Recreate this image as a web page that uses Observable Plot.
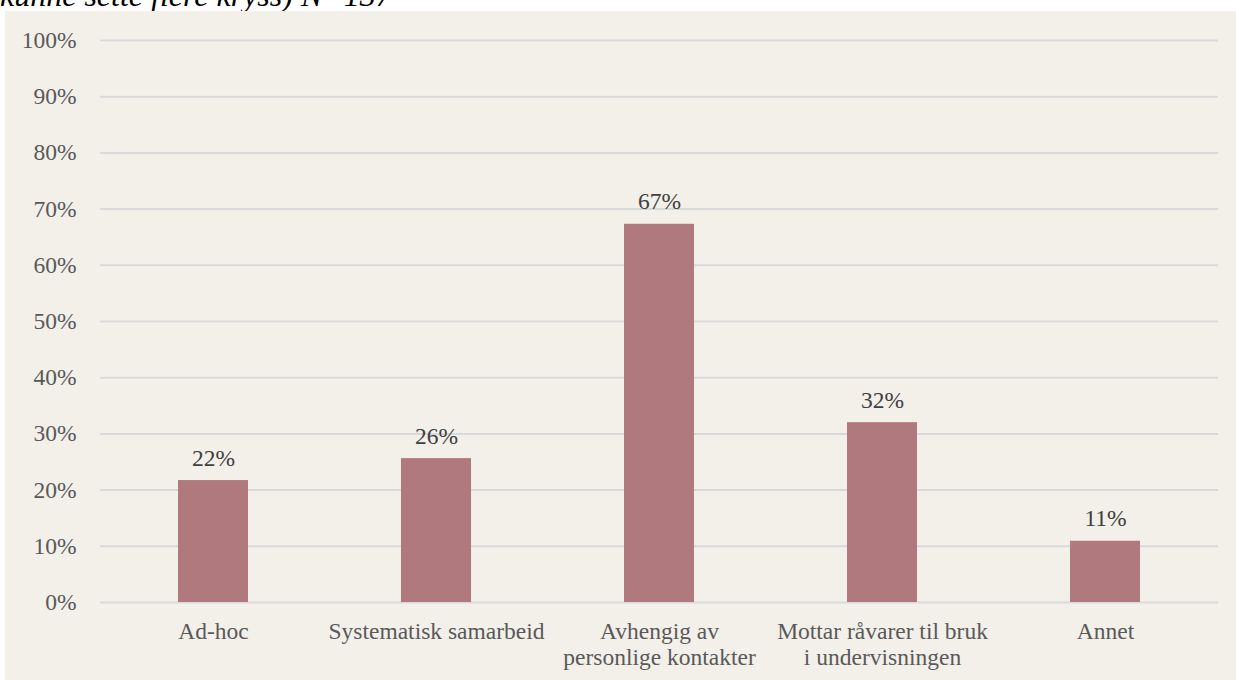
<!DOCTYPE html>
<html>
<head>
<meta charset="utf-8">
<script src="https://cdn.jsdelivr.net/npm/d3@7"></script>
<script src="https://cdn.jsdelivr.net/npm/@observablehq/plot@0.6"></script>
<style>
  html, body { margin: 0; padding: 0; background: #ffffff; width: 1236px; height: 680px; overflow: hidden; }
  #title { position: absolute; left: 0; top: -21px; font-family: 'Liberation Serif', serif; font-style: italic; font-size: 32px; line-height: 1; color: #000; white-space: nowrap; }
  #panel { position: absolute; left: 5px; top: 11px; width: 1231px; height: 669px; background: #f3f0ea; }
</style>
</head>
<body>
<div id="title">kunne sette flere kryss) N=137</div>
<div id="panel"></div>
<script>
const categories = ["Ad-hoc", "Systematisk samarbeid", "Avhengig av personlige kontakter", "Mottar råvarer til bruk i undervisningen", "Annet"];
const tickLabels = ["Ad-hoc", "Systematisk samarbeid", "Avhengig av\npersonlige kontakter", "Mottar råvarer til bruk\ni undervisningen", "Annet"];
const values = [0.217, 0.256, 0.673, 0.320, 0.109];
const valueLabels = ["22%", "26%", "67%", "32%", "11%"];
const yTicks = [0, 0.1, 0.2, 0.3, 0.4, 0.5, 0.6, 0.7, 0.8, 0.9, 1.0];

const data = categories.map((c, i) => ({category: c, value: values[i], label: valueLabels[i]}));
const tickMap = new Map(categories.map((c, i) => [c, tickLabels[i]]));

const chart = Plot.plot({
  width: 1231,
  height: 669,
  marginTop: 29,
  marginBottom: 78,
  marginLeft: 95,
  marginRight: 18,
  style: {background: "transparent", fontFamily: "'Liberation Serif', serif", fontSize: "23.5px"},
  x: {domain: categories, paddingInner: 0.687, paddingOuter: 0.3435, label: null},
  y: {domain: [0, 1], label: null},
  marks: [
    Plot.ruleY(yTicks, {stroke: "#d9d9d9", strokeWidth: 2}),
    Plot.barY(data, {x: "category", y: "value", fill: "#b0797d"}),
    Plot.text(data, {x: "category", y: "value", text: "label", dy: -15, lineAnchor: "bottom", fill: "#404040", fontSize: 23.5}),
    Plot.axisY({ticks: yTicks, tickFormat: d3.format(".0%"), tickSize: 0, tickPadding: 24, fill: "#595959", fontSize: 23.5, label: null}),
    Plot.axisX({tickFormat: d => tickMap.get(d), tickSize: 0, tickPadding: 18, lineHeight: 1.1, fill: "#595959", fontSize: 23.5, label: null})
  ]
});
document.getElementById("panel").appendChild(chart);
</script>
</body>
</html>
